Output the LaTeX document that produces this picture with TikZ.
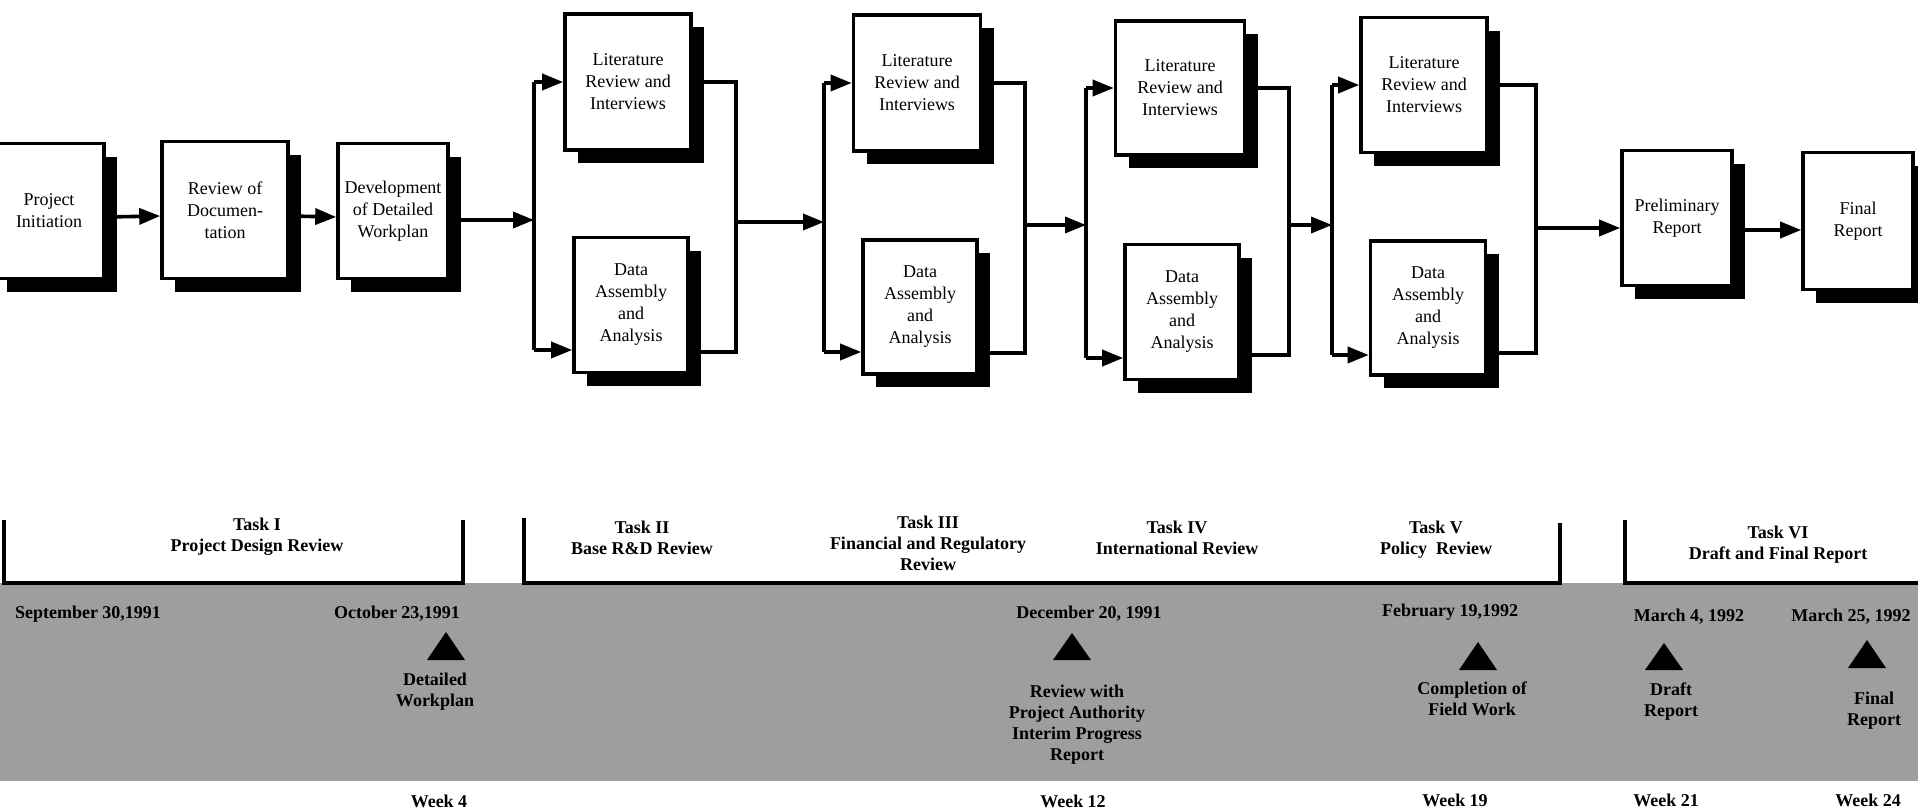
\documentclass[tikz,border=0pt]{standalone}
\usepackage{fontspec}
\setmainfont{Liberation Serif}
\usetikzlibrary{arrows.meta,shadows}

\begin{document}
\begin{tikzpicture}[x=0.5pt,y=-0.5pt,line join=miter,
  box/.style={draw,line width=1.8pt,fill=white,align=center,inner sep=1pt,
    font=\fontsize{9}{11}\selectfont,
    drop shadow={shadow xshift=6.5pt,shadow yshift=-6.5pt,fill=black,opacity=1}},
  wire/.style={line width=1.8pt},
  flow/.style={wire,-{Triangle[length=10.5pt,width=8pt]}},
  lbl/.style={align=center,font=\fontsize{9}{10.5}\selectfont\bfseries}]
 \useasboundingbox (0,0) rectangle (1918,809);

 % boxes of the work flow
 \node[box,minimum width=55pt,minimum height=67.5pt] (init) at (49,211) {Project\\Initiation};
 \node[box,minimum width=63pt,minimum height=68.5pt] (doc) at (225,210) {Review of\\Documen-\\tation};
 \node[box,minimum width=55pt,minimum height=67.5pt] (plan) at (393,211) {Development\\of Detailed\\Workplan};
 \node[box,minimum width=63pt,minimum height=68pt] (lit1) at (628,82) {Literature\\Review and\\Interviews};
 \node[box,minimum width=57pt,minimum height=67.5pt] (data1) at (631,305) {Data\\Assembly\\and\\Analysis};
 \node[box,minimum width=63.5pt,minimum height=68pt] (lit2) at (917,83) {Literature\\Review and\\Interviews};
 \node[box,minimum width=57pt,minimum height=67pt] (data2) at (920,307) {Data\\Assembly\\and\\Analysis};
 \node[box,minimum width=64.5pt,minimum height=67pt] (lit3) at (1180,88) {Literature\\Review and\\Interviews};
 \node[box,minimum width=57pt,minimum height=67.5pt] (data3) at (1182,312) {Data\\Assembly\\and\\Analysis};
 \node[box,minimum width=63pt,minimum height=67.5pt] (lit4) at (1424,85) {Literature\\Review and\\Interviews};
 \node[box,minimum width=57.5pt,minimum height=67pt] (data4) at (1428,308) {Data\\Assembly\\and\\Analysis};
 \node[box,minimum width=55pt,minimum height=67.5pt] (prelim) at (1677,218) {Preliminary\\Report};
 \node[box,minimum width=55pt,minimum height=68.5pt] (final) at (1858,221) {Final\\Report};

 % forks (f) and joins (j) of the four parallel stages
 \coordinate (f1t) at (534,82);   \coordinate (f1b) at (534,350);  \coordinate (f1m) at (534,220);
 \coordinate (j1t) at (736,82);   \coordinate (j1b) at (736,352);  \coordinate (j1m) at (736,222);
 \coordinate (f2t) at (824,83);   \coordinate (f2b) at (824,352);
 \coordinate (j2t) at (1025,83);  \coordinate (j2b) at (1025,353); \coordinate (j2m) at (1025,225);
 \coordinate (f3t) at (1086,88);  \coordinate (f3b) at (1086,358);
 \coordinate (j3t) at (1289,88);  \coordinate (j3b) at (1289,355); \coordinate (j3m) at (1289,225);
 \coordinate (f4t) at (1332,85);  \coordinate (f4b) at (1332,355);
 \coordinate (j4t) at (1536,85);  \coordinate (j4b) at (1536,353); \coordinate (j4m) at (1536,228);

 \draw[flow] ([yshift=-3pt]init.east) -- ([yshift=-3pt]doc.west);
 \draw[flow] ([yshift=-3pt]doc.east) -- ([yshift=-3pt]plan.west);
 \draw[flow] (plan.east |- f1m) -- (f1m);

 \draw[wire] (f1t) -- (f1b);
 \draw[flow] (f1t) -- (lit1.west);
 \draw[flow] (f1b) -- (f1b -| data1.west);
 \draw[wire] (lit1.east) -- (j1t) -- (j1b) -- (j1b -| data1.east);
 \draw[flow] (j1m) -- (j1m -| f2t);

 \draw[wire] (f2t) -- (f2b);
 \draw[flow] (f2t) -- (lit2.west);
 \draw[flow] (f2b) -- (f2b -| data2.west);
 \draw[wire] (lit2.east) -- (j2t) -- (j2b) -- (j2b -| data2.east);
 \draw[flow] (j2m) -- (j2m -| f3t);

 \draw[wire] (f3t) -- (f3b);
 \draw[flow] (f3t) -- (lit3.west);
 \draw[flow] (f3b) -- (f3b -| data3.west);
 \draw[wire] (lit3.east) -- (j3t) -- (j3b) -- (j3b -| data3.east);
 \draw[flow] (j3m) -- (j3m -| f4t);

 \draw[wire] (f4t) -- (f4b);
 \draw[flow] (f4t) -- (lit4.west);
 \draw[flow] (f4b) -- (f4b -| data4.west);
 \draw[wire] (lit4.east) -- (j4t) -- (j4b) -- (j4b -| data4.east);
 \draw[flow] (j4m) -- (j4m -| prelim.west);
 \draw[flow] ([yshift=-6pt]prelim.east) -- ([yshift=-6pt]prelim.east -| final.west);

 % time line
 \fill[black!38] (0,583) rectangle (1918,781);
 \draw[wire] (4,520) |- (463,583) -- (463,520);
 \draw[wire] (524,518) |- (1560,583) -- (1560,523);
 \draw[wire] (1625,520) |- (1918,583);

 \node[lbl] (task1) at (257,537) {Task I\\Project Design Review};
 \node[lbl] (task2) at (642,538) {Task II\\Base R\&D Review};
 \node[lbl] (task3) at (928,543) {Task III\\Financial and Regulatory\\Review};
 \node[lbl] (task4) at (1177,538) {Task IV\\International Review};
 \node[lbl] (task5) at (1436,540) {Task V\\Policy~ Review};
 \node[lbl] (task6) at (1778,545) {Task VI\\Draft and Final Report};

 \node[lbl] (d1) at (88,614) {September 30,1991};
 \node[lbl] (d2) at (397,614) {October 23,1991};
 \node[lbl] (d3) at (1089,614) {December 20, 1991};
 \node[lbl] (d4) at (1450,612) {February 19,1992};
 \node[lbl] (d5) at (1689,617) {March 4, 1992};
 \node[lbl] (d6) at (1851,617) {March 25, 1992};

 \fill (427,660) -- (465,660) -- (446,632) -- cycle;
 \fill (1053,660) -- (1091,660) -- (1072,633) -- cycle;
 \fill (1459,670) -- (1497,670) -- (1478,642) -- cycle;
 \fill (1645,670) -- (1683,670) -- (1664,643) -- cycle;
 \fill (1848,668) -- (1886,668) -- (1867,640) -- cycle;

 \node[lbl] (m1) at (435,692) {Detailed\\Workplan};
 \node[lbl] (m2) at (1077,725) {Review with\\Project Authority\\Interim Progress\\Report};
 \node[lbl] (m3) at (1472,699) {Completion of\\Field Work};
 \node[lbl] (m4) at (1671,702) {Draft\\Report};
 \node[lbl] (m5) at (1874,711) {Final\\Report};

 \node[lbl] (w1) at (439,801) {Week 4};
 \node[lbl] (w2) at (1073,801) {Week 12};
 \node[lbl] (w3) at (1455,800) {Week 19};
 \node[lbl] (w4) at (1666,800) {Week 21};
 \node[lbl] (w5) at (1868,800) {Week 24};
\end{tikzpicture}
\end{document}
